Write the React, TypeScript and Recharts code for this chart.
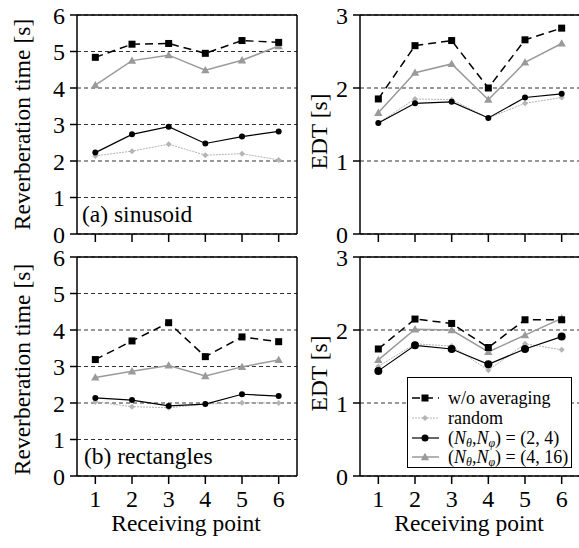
import React from 'react';
import { LineChart, Line, XAxis, YAxis, CartesianGrid, ReferenceLine, Legend } from 'recharts';

const FONT = '"Liberation Serif", "DejaVu Serif", serif';

const points = [1, 2, 3, 4, 5, 6];
const xTicks = [1, 2, 3, 4, 5, 6];
const rtTicks = [0, 1, 2, 3, 4, 5, 6];
const edtTicks = [0, 1, 2, 3];

// (a) sinusoid
const rtSinWo = [4.84, 5.2, 5.22, 4.95, 5.3, 5.25];
const rtSinRandom = [2.14, 2.27, 2.46, 2.16, 2.2, 2.03];
const rtSin24 = [2.23, 2.73, 2.94, 2.48, 2.67, 2.81];
const rtSin416 = [4.08, 4.75, 4.9, 4.49, 4.76, 5.15];

const edtSinWo = [1.85, 2.58, 2.65, 2.0, 2.66, 2.82];
const edtSinRandom = [1.52, 1.85, 1.84, 1.59, 1.79, 1.87];
const edtSin24 = [1.52, 1.79, 1.81, 1.59, 1.87, 1.92];
const edtSin416 = [1.66, 2.21, 2.33, 1.84, 2.35, 2.61];

// (b) rectangles
const rtRectWo = [3.19, 3.7, 4.2, 3.27, 3.81, 3.68];
const rtRectRandom = [2.03, 1.9, 1.87, 1.97, 2.01, 2.0];
const rtRect24 = [2.14, 2.08, 1.92, 1.97, 2.24, 2.19];
const rtRect416 = [2.7, 2.87, 3.03, 2.74, 2.99, 3.18];

const edtRectWo = [1.74, 2.15, 2.09, 1.76, 2.14, 2.14];
const edtRectRandom = [1.5, 1.81, 1.78, 1.45, 1.81, 1.73];
const edtRect24 = [1.44, 1.79, 1.74, 1.53, 1.74, 1.91];
const edtRect416 = [1.59, 2.01, 2.0, 1.7, 1.93, 2.16];

const build = (wo: number[], rnd: number[], n24: number[], n416: number[]) =>
  points.map((p, i) => ({ p, wo: wo[i], random: rnd[i], n24: n24[i], n416: n416[i] }));

const GRAY = '#9a9a9a';
const LIGHT = '#b4b4b4';

const squareDot = (props: any) => {
  const { cx, cy, index } = props;
  if (cx == null || cy == null) return <g key={`sq-${index}`} />;
  return <rect key={`sq-${index}`} x={cx - 3.5} y={cy - 3.5} width={7} height={7} fill="#000" />;
};
const circleDotR = (r: number) => (props: any) => {
  const { cx, cy, index } = props;
  if (cx == null || cy == null) return <g key={`ci-${index}`} />;
  return <circle key={`ci-${index}`} cx={cx} cy={cy} r={r} fill="#000" />;
};
const triDot = (props: any) => {
  const { cx, cy, index } = props;
  if (cx == null || cy == null) return <g key={`tr-${index}`} />;
  const s = 4.2;
  return (
    <polygon
      key={`tr-${index}`}
      points={`${cx},${cy - s} ${cx + s},${cy + s * 0.75} ${cx - s},${cy + s * 0.75}`}
      fill={GRAY}
    />
  );
};
const diaDot = (props: any) => {
  const { cx, cy, index } = props;
  if (cx == null || cy == null) return <g key={`di-${index}`} />;
  const s = 3;
  return (
    <polygon
      key={`di-${index}`}
      points={`${cx},${cy - s} ${cx + s},${cy} ${cx},${cy + s} ${cx - s},${cy}`}
      fill={LIGHT}
    />
  );
};

const LegendBox = () => {
  const rows = [21, 41, 61, 80];
  const x1 = 5;
  const x2 = 32;
  const mx = 18;
  return (
    <div
      style={{
        width: 165,
        height: 91,
        boxSizing: 'border-box',
        border: '1.5px solid #000',
        background: '#fff',
        position: 'relative',
      }}
    >
      <svg width={165} height={91} style={{ position: 'absolute', left: -1.5, top: -1.5 }}>
        <line x1={x1} y1={rows[0]} x2={x2} y2={rows[0]} stroke="#000" strokeWidth={1.5} strokeDasharray="8 5" />
        <rect x={mx - 3.5} y={rows[0] - 3.5} width={7} height={7} fill="#000" />
        <line x1={x1} y1={rows[1]} x2={x2} y2={rows[1]} stroke={LIGHT} strokeWidth={1} strokeDasharray="2 1" />
        <polygon points={`${mx},${rows[1] - 3} ${mx + 3},${rows[1]} ${mx},${rows[1] + 3} ${mx - 3},${rows[1]}`} fill={LIGHT} />
        <line x1={x1} y1={rows[2]} x2={x2} y2={rows[2]} stroke="#000" strokeWidth={1.2} />
        <circle cx={mx} cy={rows[2]} r={3.5} fill="#000" />
        <line x1={x1} y1={rows[3]} x2={x2} y2={rows[3]} stroke={GRAY} strokeWidth={1.5} />
        <polygon points={`${mx},${rows[3] - 4.2} ${mx + 4.2},${rows[3] + 3.2} ${mx - 4.2},${rows[3] + 3.2}`} fill={GRAY} />
        <g style={{ fontFamily: FONT }} fontSize={18} fill="#000">
          <text x={41} y={rows[0] + 6}>w/o averaging</text>
          <text x={41} y={rows[1] + 6}>random</text>
          <text x={41} y={rows[2] + 6}>
            (<tspan fontStyle="italic">N</tspan>
            <tspan fontStyle="italic" fontSize={12} dy={3}>θ</tspan>
            <tspan dy={-3}>,</tspan>
            <tspan fontStyle="italic">N</tspan>
            <tspan fontStyle="italic" fontSize={12} dy={3}>φ</tspan>
            <tspan dy={-3}>) = (2, 4)</tspan>
          </text>
          <text x={41} y={rows[3] + 6}>
            (<tspan fontStyle="italic">N</tspan>
            <tspan fontStyle="italic" fontSize={12} dy={3}>θ</tspan>
            <tspan dy={-3}>,</tspan>
            <tspan fontStyle="italic">N</tspan>
            <tspan fontStyle="italic" fontSize={12} dy={3}>φ</tspan>
            <tspan dy={-3}>) = (4, 16)</tspan>
          </text>
        </g>
      </svg>
    </div>
  );
};

type PanelProps = {
  data: any[];
  left: number;
  top: number;
  height: number;
  plotLeft: number;
  yMax: number;
  yTicks: number[];
  yLabel: string;
  yLabelX: number;
  yLabelShift: number;
  showX: boolean;
  annotation?: string;
  annX?: number;
  legend?: boolean;
  circleR: number;
};

const tickStyle = { fill: '#000', fontSize: 24, style: { fontFamily: FONT } };

const Panel = (p: PanelProps) => {
  const width = 300;
  const plotW = 220;
  const plotH = 219;
  const mTop = 15;
  const right = width - p.plotLeft - plotW;
  const xH = p.height - mTop - plotH;
  const cy = mTop + plotH / 2 + p.yLabelShift;
  return (
    <div style={{ position: 'absolute', left: p.left, top: p.top, width, height: p.height, fontFamily: FONT }}>
      <LineChart
        width={width}
        height={p.height}
        data={p.data}
        margin={{ top: mTop, right, bottom: 0, left: 0 }}
        style={{ fontFamily: FONT }}
      >
        <CartesianGrid vertical={false} stroke="#333" strokeDasharray="4 3" strokeWidth={1} />
        <XAxis
          dataKey="p"
          type="number"
          domain={[0.5, 6.5]}
          ticks={xTicks}
          interval={0}
          height={xH}
          tickSize={8}
          tickMargin={6}
          axisLine={{ stroke: '#000', strokeWidth: 1.5 }}
          tickLine={{ stroke: '#000', strokeWidth: 1.5 }}
          tick={tickStyle}
          tickFormatter={(v: number) => (p.showX ? String(v) : '')}
        />
        <YAxis
          type="number"
          domain={[0, p.yMax]}
          ticks={p.yTicks}
          interval={0}
          width={p.plotLeft}
          tickSize={7}
          tickMargin={5}
          axisLine={{ stroke: '#000', strokeWidth: 1.5 }}
          tickLine={{ stroke: '#000', strokeWidth: 1.5 }}
          tick={tickStyle}
        />
        <ReferenceLine y={p.yMax} stroke="#000" strokeWidth={1.5} />
        <ReferenceLine x={6.5} stroke="#000" strokeWidth={1.5} />
        <Line
          dataKey="random"
          stroke={LIGHT}
          strokeWidth={1}
          strokeDasharray="2 1"
          dot={diaDot}
          isAnimationActive={false}
        />
        <Line dataKey="n416" stroke={GRAY} strokeWidth={1.5} dot={triDot} isAnimationActive={false} />
        <Line dataKey="n24" stroke="#000" strokeWidth={1.2} dot={circleDotR(p.circleR)} isAnimationActive={false} />
        <Line
          dataKey="wo"
          stroke="#000"
          strokeWidth={1.5}
          strokeDasharray="8 5"
          dot={squareDot}
          isAnimationActive={false}
        />
        {p.legend ? (
          <Legend
            layout="vertical"
            verticalAlign="middle"
            align="center"
            wrapperStyle={{ left: 117, top: 135, width: 165, height: 91 }}
            content={() => <LegendBox />}
          />
        ) : null}
        <text
          x={p.yLabelX}
          y={cy}
          transform={`rotate(-90, ${p.yLabelX}, ${cy})`}
          textAnchor="middle"
          style={{ fontFamily: FONT }}
          fontSize={23.5}
          fill="#000"
        >
          {p.yLabel}
        </text>
        {p.annotation ? (
          <text x={p.annX} y={222} style={{ fontFamily: FONT }} fontSize={23.5} fill="#000">
            {p.annotation}
          </text>
        ) : null}
        {p.showX ? (
          <text
            x={p.plotLeft + plotW / 2 - 1}
            y={289}
            textAnchor="middle"
            style={{ fontFamily: FONT }}
            fontSize={23.5}
            fill="#000"
          >
            Receiving point
          </text>
        ) : null}
      </LineChart>
    </div>
  );
};

export default function App() {
  return (
    <div
      style={{
        position: 'absolute',
        left: 0,
        top: 0,
        width: 579,
        height: 548,
        overflow: 'hidden',
        background: '#fff',
        fontFamily: FONT,
      }}
    >
      <Panel
        data={build(rtSinWo, rtSinRandom, rtSin24, rtSin416)}
        left={0}
        top={0}
        height={250}
        plotLeft={77}
        yMax={6}
        yTicks={rtTicks}
        yLabel="Reverberation time [s]"
        yLabelX={30}
        yLabelShift={0}
        showX={false}
        annotation="(a) sinusoid"
        annX={82}
        circleR={3}
      />
      <Panel
        data={build(edtSinWo, edtSinRandom, edtSin24, edtSin416)}
        left={290}
        top={0}
        height={250}
        plotLeft={70}
        yMax={3}
        yTicks={edtTicks}
        yLabel="EDT [s]"
        yLabelX={37}
        yLabelShift={7}
        showX={false}
        circleR={3}
      />
      <Panel
        data={build(rtRectWo, rtRectRandom, rtRect24, rtRect416)}
        left={0}
        top={242}
        height={306}
        plotLeft={77}
        yMax={6}
        yTicks={rtTicks}
        yLabel="Reverberation time [s]"
        yLabelX={30}
        yLabelShift={3}
        showX={true}
        annotation="(b) rectangles"
        annX={84}
        circleR={3}
      />
      <Panel
        data={build(edtRectWo, edtRectRandom, edtRect24, edtRect416)}
        left={290}
        top={242}
        height={306}
        plotLeft={70}
        yMax={3}
        yTicks={edtTicks}
        yLabel="EDT [s]"
        yLabelX={37}
        yLabelShift={7}
        showX={true}
        legend={true}
        circleR={4}
      />
    </div>
  );
}
